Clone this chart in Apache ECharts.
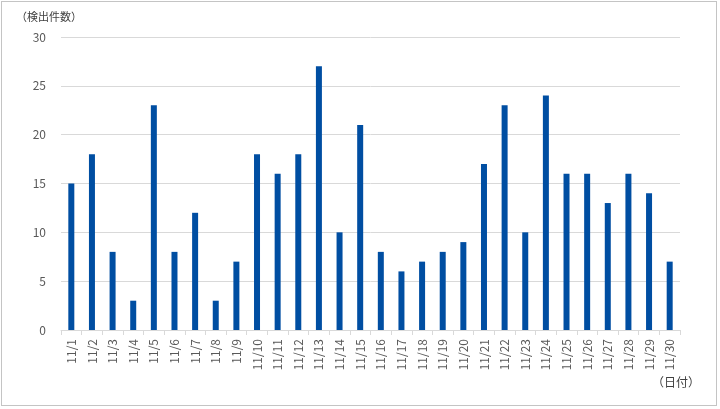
<!DOCTYPE html>
<html>
<head>
<meta charset="utf-8">
<script src="https://cdn.jsdelivr.net/npm/echarts@6/dist/echarts.min.js"></script>
<style>
  html, body { margin: 0; padding: 0; background: #fff; }
  #frame { position: absolute; left: 1px; top: 1px; width: 716px; height: 405px; border: 1px solid #c4c4c4; box-sizing: border-box; }
  #chart { position: absolute; left: 0; top: 0; width: 720px; height: 409px; }
</style>
</head>
<body>
<div id="frame"></div>
<div id="chart"></div>
<script>
  // 日付と検出件数
  var days = ['11/1', '11/2', '11/3', '11/4', '11/5', '11/6', '11/7', '11/8', '11/9', '11/10',
    '11/11', '11/12', '11/13', '11/14', '11/15', '11/16', '11/17', '11/18', '11/19', '11/20',
    '11/21', '11/22', '11/23', '11/24', '11/25', '11/26', '11/27', '11/28', '11/29', '11/30'];
  var counts = [15, 18, 8, 3, 23, 8, 12, 3, 7, 18,
    16, 18, 27, 10, 21, 8, 6, 7, 8, 9,
    17, 23, 10, 24, 16, 16, 13, 16, 14, 7];

  var font = '"Noto Sans CJK JP", "Noto Sans", sans-serif';
  var chart = echarts.init(document.getElementById('chart'));
  chart.setOption({
    animation: false,
    textStyle: { fontFamily: font },
    graphic: [{
      type: 'text', left: 16, top: 11,
      style: { text: '（検出件数）', font: '11px ' + font, fill: '#404040' }
    }, {
      type: 'text', left: 652, top: 376,
      style: { text: '（日付）', font: '12px ' + font, fill: '#404040' }
    }],
    grid: { left: 61, right: 40, top: 37, bottom: 79 },
    xAxis: {
      type: 'category',
      data: days,
      axisLine: { lineStyle: { color: '#d9d9d9' } },
      axisTick: { show: true, length: 5, lineStyle: { color: '#d9d9d9' } },
      axisLabel: { rotate: 90, color: '#595959', fontSize: 12, margin: 9 }
    },
    yAxis: {
      type: 'value',
      min: 0, max: 30, interval: 5,
      axisLine: { show: false },
      axisTick: { show: false },
      axisLabel: { color: '#595959', fontSize: 12, margin: 15 },
      splitLine: { lineStyle: { color: '#d9d9d9' } }
    },
    series: [{
      type: 'bar',
      data: counts,
      barWidth: 6,
      itemStyle: { color: '#004ea2' }
    }]
  });
</script>
</body>
</html>
